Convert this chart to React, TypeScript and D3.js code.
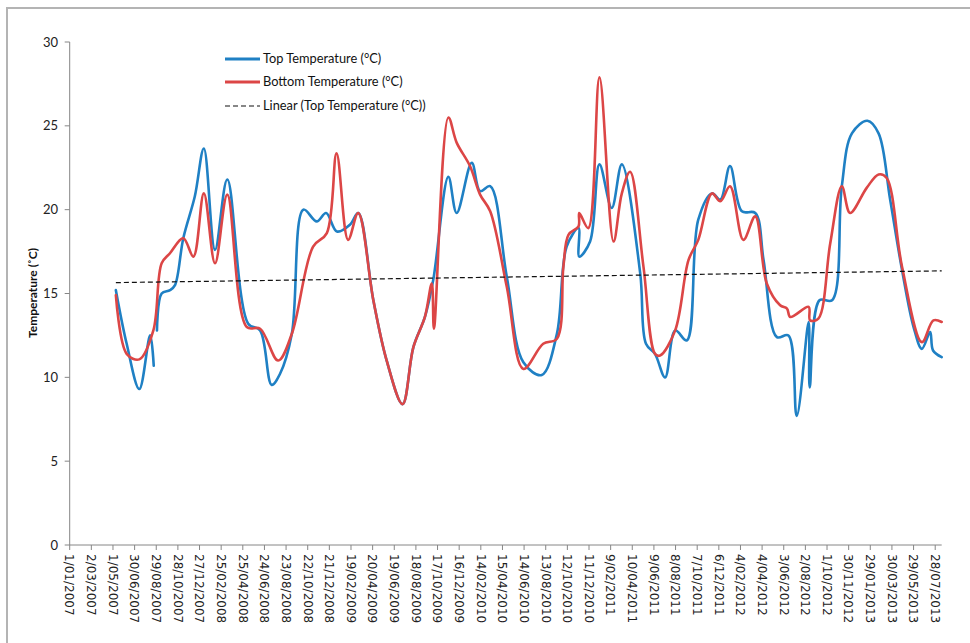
import React from "react";
import * as d3 from "d3";

const topDates = [
  "2007-05-09","2007-06-08","2007-07-13","2007-08-12","2007-08-22","2007-08-27","2007-08-31","2007-09-13","2007-10-06","2007-10-20",
  "2007-11-12","2007-12-14","2008-01-08","2008-02-08","2008-03-13","2008-05-10","2008-06-12","2008-07-14","2008-08-06","2008-09-08",
  "2008-10-10","2008-11-16","2008-12-12","2009-01-11","2009-02-16","2009-03-11","2009-04-22","2009-05-29","2009-07-12","2009-08-11",
  "2009-09-12","2009-10-05","2009-11-16","2009-12-09","2010-01-20","2010-02-12","2010-03-12","2010-04-27","2010-06-12","2010-08-02",
  "2010-09-13","2010-10-10","2010-11-12","2010-11-14","2010-12-14","2011-01-09","2011-02-12","2011-03-12","2011-05-02","2011-05-18",
  "2011-06-12","2011-07-10","2011-08-07","2011-09-08","2011-10-10","2011-11-17","2011-12-10","2012-01-06","2012-02-08","2012-03-16",
  "2012-04-08","2012-05-15","2012-06-16","2012-07-09","2012-08-11","2012-08-14","2012-09-10","2012-10-15","2012-11-11","2012-12-09",
  "2013-01-21","2013-02-21","2013-03-25","2013-04-27","2013-05-29","2013-06-21","2013-07-14","2013-07-22","2013-08-15",
];
const topValues: (number | null)[] = [
  15.2, 12.0, 9.3, 12.5, 10.7, null, 12.8, 15.0, 15.2, 15.5,
  18.3, 20.8, 23.65, 17.6, 21.8, 13.2, 12.8, 9.55, 10.2, 12.6,
  20.0, 19.3, 19.8, 18.7, 19.1, 19.8, 14.6, 11.0, 8.4, 11.8,
  13.6, 15.8, 21.96, 19.8, 22.8, 21.1, 21.4, 16.0, 10.9, 10.14,
  12.6, 17.8, 18.9, 17.2, 18.1, 22.7, 20.1, 22.7, 16.2, 12.0,
  11.4, 10.0, 12.8, 12.2, 19.4, 20.97, 20.6, 22.6, 19.9, 19.8,
  17.0, 12.4, 12.5, 7.7, 13.3, 9.4, 14.6, 14.6, 21.4, 24.55,
  25.3, 24.55, 20.6, 16.4, 13.0, 11.7, 12.7, 11.6, 11.2,
];

const bottomDates = [
  "2007-05-09","2007-06-08","2007-07-13","2007-08-21","2007-09-13","2007-10-06","2007-11-12","2007-12-10","2008-01-08","2008-02-08",
  "2008-03-13","2008-05-06","2008-06-12","2008-08-01","2008-09-08","2008-11-06","2008-12-14","2009-01-10","2009-02-11","2009-03-11",
  "2009-04-22","2009-05-29","2009-07-12","2009-08-11","2009-09-12","2009-10-01","2009-10-07","2009-11-16","2009-12-09","2010-01-15",
  "2010-02-12","2010-03-12","2010-04-27","2010-06-12","2010-08-06","2010-09-13","2010-10-01","2010-10-15","2010-11-12","2010-11-14",
  "2010-12-09","2011-01-09","2011-02-17","2011-03-12","2011-04-04","2011-05-11","2011-06-12","2011-06-26","2011-08-07","2011-09-13",
  "2011-10-10","2011-11-17","2011-12-10","2012-01-06","2012-02-12","2012-03-16","2012-04-17","2012-05-24","2012-06-12","2012-06-21",
  "2012-08-11","2012-08-15","2012-09-07","2012-10-10","2012-11-11","2012-12-04","2013-01-19","2013-02-21","2013-03-15","2013-04-27",
  "2013-06-21","2013-07-23","2013-08-15",
];
const bottomValues = [
  14.9, 11.4, 11.07, 12.8, 16.8, 17.4, 18.3, 17.2, 20.97, 16.8,
  20.9, 13.0, 12.9, 11.0, 12.6, 17.8, 18.6, 23.36, 18.2, 19.8,
  14.6, 11.0, 8.4, 11.8, 13.6, 15.6, 12.9, 25.5, 24.0, 22.6,
  20.9, 19.9, 15.4, 10.5, 12.0, 12.3, 16.6, 18.5, 19.0, 19.8,
  18.9, 27.9, 18.1, 20.97, 22.26, 16.6, 11.4, 11.3, 12.8, 17.0,
  18.2, 20.97, 20.5, 21.4, 18.2, 19.6, 15.6, 14.3, 14.1, 13.6,
  14.2, 13.4, 13.5, 18.0, 21.4, 19.8, 21.3, 22.1, 21.9, 16.6,
  12.1, 13.4, 13.3,
];

// Linear trend of Top Temperature (start, end values)
const trendValues = [15.65, 16.35];

const xTickLabels = [
  "1/01/2007","2/03/2007","1/05/2007","30/06/2007","29/08/2007","28/10/2007","27/12/2007","25/02/2008","25/04/2008","24/06/2008",
  "23/08/2008","22/10/2008","21/12/2008","19/02/2009","20/04/2009","19/06/2009","18/08/2009","17/10/2009","16/12/2009","14/02/2010",
  "15/04/2010","14/06/2010","13/08/2010","12/10/2010","11/12/2010","9/02/2011","10/04/2011","9/06/2011","8/08/2011","7/10/2011",
  "6/12/2011","4/02/2012","4/04/2012","3/06/2012","2/08/2012","1/10/2012","30/11/2012","29/01/2013","30/03/2013","29/05/2013",
  "28/07/2013",
];
const yTicks = [0, 5, 10, 15, 20, 25, 30];

const seriesNames = ["Top Temperature (°C)", "Bottom Temperature (°C)", "Linear (Top Temperature (°C))"];

const BLUE = "#1f80c4";
const RED = "#dc4646";

const parseISO = d3.utcParse("%Y-%m-%d");
const parseDMY = d3.utcParse("%d/%m/%Y");

export default function App() {
  const width = 970;
  const height = 643;
  const x0 = 69.7;
  const x1 = 941.7;
  const yTop = 42;
  const yBottom = 545;

  const x = d3
    .scaleUtc()
    .domain([parseISO("2007-01-01") as Date, parseISO(topDates[topDates.length - 1]) as Date])
    .range([x0, x1]);
  const y = d3.scaleLinear().domain([0, 30]).range([yBottom, yTop]);

  type Pt = { d: Date; v: number | null };
  const topPts: Pt[] = topDates.map((s, i) => ({ d: parseISO(s) as Date, v: topValues[i] }));
  const botPts: Pt[] = bottomDates.map((s, i) => ({ d: parseISO(s) as Date, v: bottomValues[i] }));

  const line = d3
    .line<Pt>()
    .defined((p) => p.v !== null)
    .x((p) => x(p.d))
    .y((p) => y(p.v as number))
    .curve(d3.curveCatmullRom.alpha(0.5));

  const trendStart = topPts[0].d;
  const trendEnd = topPts[topPts.length - 1].d;

  const ticks = xTickLabels.map((s) => ({ s, d: parseDMY(s) as Date }));
  const axisColor = "#868686";
  const font = "Lato, 'Open Sans', sans-serif";

  const legendX = 225;
  const legendRows = [59, 82, 106];

  return (
    <svg
      width={width}
      height={height}
      style={{ position: "fixed", left: 0, top: 0, background: "#fff" }}
      fontFamily={font}
    >
      <rect x={0} y={0} width={width} height={height} fill="#fff" />
      <rect x={7} y={8} width={width + 40} height={height + 40} fill="none" stroke="#b4b4b4" strokeWidth={2} />

      {/* Y axis */}
      <line x1={x0} x2={x0} y1={yTop} y2={yBottom} stroke={axisColor} strokeWidth={1} />
      {yTicks.map((t) => (
        <g key={t}>
          <line x1={x0 - 5} x2={x0} y1={y(t)} y2={y(t)} stroke={axisColor} />
          <text x={58} y={y(t)} dy="0.35em" textAnchor="end" fontSize={13} fill="#222">
            {t}
          </text>
        </g>
      ))}
      <text
        transform={`translate(37, 293) rotate(-90)`}
        textAnchor="middle"
        fontSize={12}
        fontWeight="bold"
        fill="#111"
      >
        Temperature (˚C)
      </text>

      {/* X axis */}
      <line x1={x0} x2={x1} y1={yBottom} y2={yBottom} stroke={axisColor} strokeWidth={1} />
      {ticks.map((t) => (
        <g key={t.s}>
          <line x1={x(t.d)} x2={x(t.d)} y1={yBottom} y2={yBottom + 5} stroke={axisColor} />
          <text
            transform={`translate(${x(t.d)}, ${yBottom + 9}) rotate(90)`}
            dy="0.35em"
            textAnchor="start"
            fontSize={12}
            fontFamily="'DejaVu Sans', Verdana, sans-serif"
            fill="#222"
          >
            {t.s}
          </text>
        </g>
      ))}

      {/* Series */}
      <path d={line(topPts) || ""} fill="none" stroke={BLUE} strokeWidth={2.6} strokeLinejoin="round" strokeLinecap="round" />
      <path d={line(botPts) || ""} fill="none" stroke={RED} strokeWidth={2.6} strokeLinejoin="round" strokeLinecap="round" />
      <line
        x1={x(trendStart)}
        x2={x(trendEnd)}
        y1={y(trendValues[0])}
        y2={y(trendValues[1])}
        stroke="#111"
        strokeWidth={1.2}
        strokeDasharray="5,3"
      />

      {/* Legend */}
      <line x1={legendX} x2={legendX + 35} y1={legendRows[0]} y2={legendRows[0]} stroke={BLUE} strokeWidth={3} />
      <line x1={legendX} x2={legendX + 35} y1={legendRows[1]} y2={legendRows[1]} stroke={RED} strokeWidth={3} />
      <line x1={legendX} x2={legendX + 35} y1={legendRows[2]} y2={legendRows[2]} stroke="#111" strokeWidth={1.2} strokeDasharray="5,3" />
      {seriesNames.map((n, i) => (
        <text key={n} x={263} y={legendRows[i]} dy="0.35em" fontSize={12.8} fill="#111">
          {n}
        </text>
      ))}
    </svg>
  );
}
